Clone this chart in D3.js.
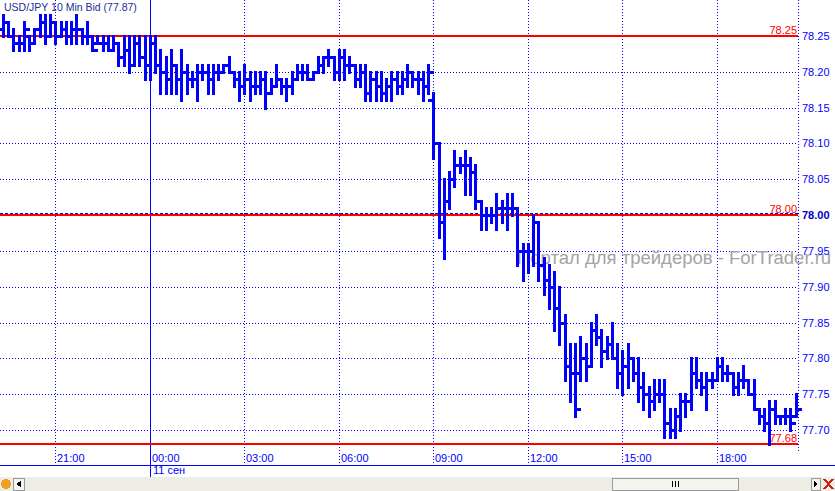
<!DOCTYPE html>
<html>
<head>
<meta charset="utf-8">
<script src="https://cdn.jsdelivr.net/npm/d3@7"></script>
<style>
html, body { margin: 0; padding: 0; background: #fff; overflow: hidden; }
svg { display: block; font-family: "Liberation Sans", Arial, sans-serif; }
</style>
</head>
<body>
<div id="chart"></div>
<script>
// USD/JPY 10 min bars, 10 Sep 19:20 .. 11 Sep 20:30
var barOpen = [78.26,78.27,78.25,78.24,78.24,78.25,78.24,78.26,78.27,78.25,78.27,78.25,78.26,78.25,78.26,78.26,78.25,78.25,78.24,78.24,
	78.24,78.23,78.24,78.22,78.23,78.21,78.24,78.22,78.21,78.24,78.21,78.20,78.19,78.21,78.19,78.20,78.19,78.19,78.20,78.20,
	78.19,78.20,78.20,78.21,78.20,78.19,78.18,78.19,78.18,78.18,78.19,78.17,78.18,78.19,78.18,78.18,78.19,78.20,78.20,78.19,
	78.20,78.21,78.22,78.22,78.20,78.22,78.21,78.21,78.19,78.20,78.17,78.19,78.18,78.17,78.18,78.19,78.18,78.19,78.20,78.19,
	78.19,78.18,78.16,78.10,77.99,78.02,78.05,78.07,78.07,78.07,78.06,78.02,78.00,78.00,78.00,78.01,78.01,78.01,78.01,77.95,
	77.95,77.95,77.99,77.93,77.91,77.90,77.87,77.85,77.79,77.78,77.78,77.80,77.79,77.84,77.83,77.81,77.82,77.80,77.78,77.79,
	77.80,77.78,77.76,77.75,77.74,77.75,77.75,77.71,77.70,77.72,77.74,77.74,77.78,77.77,77.76,77.77,77.77,77.79,77.78,77.78,
	77.76,77.77,77.77,77.75,77.73,77.72,77.71,77.73,77.72,77.72,77.72,77.72];
var barHigh = [78.28,78.27,78.26,78.25,78.27,78.25,78.26,78.28,78.28,78.28,78.27,78.27,78.27,78.27,78.28,78.26,78.27,78.25,78.25,78.25,
	78.25,78.25,78.24,78.25,78.25,78.25,78.25,78.25,78.25,78.25,78.23,78.22,78.23,78.21,78.23,78.21,78.20,78.21,78.21,78.21,
	78.21,78.21,78.21,78.22,78.20,78.20,78.21,78.20,78.20,78.20,78.20,78.19,78.21,78.19,78.19,78.20,78.21,78.21,78.21,78.20,
	78.22,78.22,78.23,78.22,78.23,78.23,78.22,78.21,78.21,78.21,78.20,78.20,78.20,78.19,78.20,78.20,78.20,78.21,78.20,78.20,
	78.20,78.21,78.17,78.10,78.05,78.06,78.09,78.08,78.09,78.08,78.07,78.02,78.01,78.01,78.03,78.02,78.03,78.03,78.01,77.96,
	77.96,78.00,77.99,77.94,77.93,77.92,77.90,77.86,77.82,77.82,77.83,77.82,77.85,77.86,77.84,77.83,77.85,77.82,77.81,77.82,
	77.80,77.80,77.78,77.76,77.77,77.77,77.77,77.73,77.73,77.75,77.75,77.80,77.80,77.78,77.78,77.78,77.80,77.80,77.79,77.78,
	77.78,77.79,77.77,77.77,77.73,77.73,77.74,77.74,77.72,77.73,77.73,77.75];
var barLow = [78.25,78.25,78.23,78.23,78.23,78.23,78.24,78.25,78.24,78.25,78.24,78.25,78.24,78.24,78.24,78.24,78.24,78.23,78.24,78.23,
	78.23,78.23,78.21,78.21,78.20,78.21,78.21,78.19,78.19,78.20,78.17,78.17,78.17,78.17,78.16,78.17,78.18,78.16,78.19,78.17,
	78.17,78.19,78.20,78.20,78.18,78.16,78.17,78.16,78.17,78.17,78.15,78.17,78.18,78.17,78.16,78.17,78.19,78.19,78.19,78.19,
	78.20,78.20,78.21,78.19,78.19,78.19,78.20,78.18,78.18,78.16,78.16,78.16,78.16,78.16,78.16,78.17,78.17,78.18,78.18,78.17,
	78.16,78.17,78.08,77.97,77.94,78.01,78.04,78.06,78.03,78.03,78.01,77.98,77.98,77.99,77.98,77.99,77.98,78.00,77.93,77.91,
	77.92,77.93,77.91,77.89,77.87,77.84,77.82,77.77,77.74,77.72,77.77,77.77,77.79,77.82,77.79,77.80,77.80,77.76,77.75,77.76,
	77.77,77.74,77.73,77.72,77.73,77.74,77.69,77.69,77.69,77.70,77.72,77.73,77.76,77.75,77.73,77.76,77.77,77.77,77.77,77.75,
	77.75,77.76,77.75,77.73,77.71,77.70,77.68,77.71,77.71,77.71,77.70,77.72];
var barClose = [78.27,78.25,78.24,78.24,78.26,78.24,78.26,78.27,78.25,78.27,78.25,78.26,78.25,78.26,78.26,78.25,78.25,78.23,78.24,78.24,
	78.23,78.24,78.22,78.23,78.21,78.24,78.22,78.21,78.24,78.21,78.20,78.19,78.21,78.19,78.20,78.19,78.19,78.20,78.20,78.19,
	78.20,78.20,78.21,78.20,78.19,78.18,78.19,78.18,78.18,78.19,78.17,78.18,78.19,78.18,78.18,78.19,78.20,78.20,78.19,78.20,
	78.21,78.22,78.22,78.20,78.22,78.21,78.21,78.19,78.20,78.17,78.19,78.18,78.17,78.18,78.19,78.18,78.19,78.20,78.19,78.19,
	78.18,78.20,78.10,77.99,78.02,78.05,78.07,78.07,78.07,78.06,78.02,78.00,78.00,78.00,78.01,78.01,78.01,78.01,77.95,77.95,
	77.95,77.99,77.93,77.91,77.90,77.87,77.85,77.79,77.78,77.73,77.80,77.79,77.84,77.83,77.81,77.82,77.80,77.78,77.79,77.80,
	77.78,77.76,77.75,77.74,77.75,77.75,77.71,77.70,77.72,77.74,77.74,77.78,77.77,77.76,77.77,77.77,77.79,77.78,77.78,77.76,
	77.77,77.77,77.75,77.73,77.72,77.71,77.73,77.72,77.72,77.72,77.71,77.73];

var priceTicks  = ["78.25","78.20","78.15","78.10","78.05","78.00","77.95","77.90","77.85","77.80","77.75","77.70"];
var timeLabels  = ["21:00","00:00","03:00","06:00","09:00","12:00","15:00","18:00"];
var timeBars    = [10, 28, 46, 64, 82, 100, 118, 136];
var dayLabel    = "11 сен";
var dayBar      = 28;
var levelLines  = [78.25, 78.00, 77.68];
var bidPrice    = 78.00;
var titleText   = "USD/JPY 10 Min Bid (77.87)";
var watermark   = "Портал для трейдеров - ForTrader.ru";

var BarChart = function(options){
	this.opt = {
		'target': 'chart',
		'width': 835,
		'height': 491
	};
	for (var k in options) this.opt[k] = options[k];
	this.setupSVG();
	this.renderGrid();
	this.renderLevels();
	this.renderBars();
	this.renderAxes();
	this.renderScrollbar();
};

BarChart.prototype.setupSVG = function(){
	this.plotRight = 798;
	this.plotBottom = 452;
	this.x = d3.scaleLinear()
		.domain([0, barOpen.length - 1])
		.range([2.9, 2.9 + (barOpen.length - 1) * 5.25]);
	this.y = d3.scaleLinear()
		.domain([77.70, 78.25])
		.range([430, 36]);
	this.svg = d3.select("#" + this.opt.target).append("svg")
		.attr("width", this.opt.width)
		.attr("height", this.opt.height);
	this.svg.append("rect")
		.attr("width", this.opt.width)
		.attr("height", this.opt.height)
		.attr("fill", "#fff");
};

BarChart.prototype.renderGrid = function(){
	var self = this;
	// horizontal dotted grid
	this.svg.append("g").selectAll("line")
		.data(priceTicks)
		.enter().append("line")
		.attr("x1", 0)
		.attr("x2", self.plotRight)
		.attr("y1", function(d){ return Math.round(self.y(+d)) + 0.5; })
		.attr("y2", function(d){ return Math.round(self.y(+d)) + 0.5; })
		.attr("stroke", "#0000ff")
		.attr("stroke-dasharray", "1,2");
	// vertical dotted grid
	this.svg.append("g").selectAll("line")
		.data(timeBars.filter(function(b){ return b != dayBar; }))
		.enter().append("line")
		.attr("x1", function(d){ return Math.round(self.x(d)) + 0.5; })
		.attr("x2", function(d){ return Math.round(self.x(d)) + 0.5; })
		.attr("y1", 0)
		.attr("y2", 463)
		.attr("stroke", "#0000ff")
		.attr("stroke-dasharray", "1,2");
	// day separator
	var dx = Math.round(this.x(dayBar)) + 0.5;
	this.svg.append("line")
		.attr("x1", dx).attr("x2", dx)
		.attr("y1", 0).attr("y2", 477)
		.attr("stroke", "#0000ff");
	// price axis line
	this.svg.append("line")
		.attr("x1", this.plotRight + 0.5).attr("x2", this.plotRight + 0.5)
		.attr("y1", 0).attr("y2", this.plotBottom)
		.attr("stroke", "#0000ff")
		.attr("stroke-dasharray", "1,2");
	// watermark
	this.svg.append("text")
		.attr("x", 517)
		.attr("y", 264)
		.attr("font-size", 18.5)
		.attr("fill", "#a4a4a4")
		.text(watermark);
};

BarChart.prototype.renderLevels = function(){
	var self = this;
	var by = Math.round(this.y(bidPrice)) - 1.5;
	this.svg.append("line")
		.attr("x1", 0).attr("x2", this.plotRight)
		.attr("y1", by).attr("y2", by)
		.attr("stroke", "#0000ff")
		.attr("stroke-dasharray", "3,2");
	var lv = this.svg.append("g").selectAll("g")
		.data(levelLines)
		.enter().append("g");
	lv.append("rect")
		.attr("x", 0)
		.attr("width", self.plotRight)
		.attr("y", function(d){ return Math.round(self.y(d)) - 1; })
		.attr("height", 2)
		.attr("fill", "#ff0000");
	lv.append("text")
		.attr("x", self.plotRight - 1)
		.attr("y", function(d){ return Math.round(self.y(d)) - 2; })
		.attr("text-anchor", "end")
		.attr("font-size", 11)
		.attr("fill", "#ff0000")
		.text(function(d){ return d.toFixed(2); });
};

BarChart.prototype.renderBars = function(){
	var self = this;
	var data = barOpen.map(function(o, i){
		return {i: i, o: o, h: barHigh[i], l: barLow[i], c: barClose[i]};
	});
	var g = this.svg.append("g")
		.attr("fill", "#0000ff")
		.attr("shape-rendering", "crispEdges");
	var bars = g.selectAll("g").data(data).enter().append("g");
	bars.append("rect")
		.attr("x", function(d){ return Math.round(self.x(d.i)) - 1; })
		.attr("width", 3)
		.attr("y", function(d){ return Math.round(self.y(d.h)) - 1; })
		.attr("height", function(d){ return Math.round(self.y(d.l)) - Math.round(self.y(d.h)) + 3; });
	bars.append("rect")
		.attr("x", function(d){ return Math.round(self.x(d.i)) - 5; })
		.attr("width", 4)
		.attr("y", function(d){ return Math.round(self.y(d.o)) - 1; })
		.attr("height", 3);
	bars.append("rect")
		.attr("x", function(d){ return Math.round(self.x(d.i)) + 2; })
		.attr("width", 4)
		.attr("y", function(d){ return Math.round(self.y(d.c)) - 1; })
		.attr("height", 3);
};

BarChart.prototype.renderAxes = function(){
	var self = this;
	this.svg.append("text")
		.attr("x", 4)
		.attr("y", 11)
		.attr("font-size", 10.5)
		.attr("fill", "#1c2c9c")
		.text(titleText);
	this.svg.append("g").selectAll("text")
		.data(priceTicks)
		.enter().append("text")
		.attr("x", self.plotRight + 4)
		.attr("y", function(d){ return self.y(+d) + 4; })
		.attr("font-size", 11)
		.attr("font-weight", function(d){ return +d == bidPrice ? "bold" : "normal"; })
		.attr("fill", function(d){ return +d == bidPrice ? "#0000c0" : "#0000ff"; })
		.text(function(d){ return d; });
	this.svg.append("g").selectAll("text")
		.data(timeLabels)
		.enter().append("text")
		.attr("x", function(d, i){ return Math.round(self.x(timeBars[i])) + 2; })
		.attr("y", 462)
		.attr("font-size", 11)
		.attr("fill", "#0000ff")
		.text(function(d){ return d; });
	this.svg.append("line")
		.attr("x1", 0).attr("x2", this.opt.width)
		.attr("y1", 465.5).attr("y2", 465.5)
		.attr("stroke", "#0000ff");
	this.svg.append("text")
		.attr("x", Math.round(this.x(dayBar)) + 3)
		.attr("y", 474)
		.attr("font-size", 11)
		.attr("fill", "#0000ff")
		.text(dayLabel);
};

BarChart.prototype.renderScrollbar = function(){
	var sb = this.svg.append("g").attr("shape-rendering", "crispEdges");
	sb.append("rect").attr("x", 0).attr("y", 477).attr("width", 835).attr("height", 14).attr("fill", "#eeede5");
	sb.append("circle").attr("cx", 6).attr("cy", 484).attr("r", 5).attr("fill", "#f0a020");
	sb.append("rect").attr("x", 13).attr("y", 478).attr("width", 11).attr("height", 12).attr("fill", "#f4f3ee").attr("stroke", "#999");
	sb.append("path").attr("d", "M21,481 L16,484 L21,487 Z").attr("fill", "#000");
	sb.append("rect").attr("x", 612).attr("y", 478).attr("width", 126).attr("height", 12).attr("fill", "#f4f3ee").attr("stroke", "#999");
	sb.append("path").attr("d", "M672,481 V487 M675,481 V487 M678,481 V487").attr("stroke", "#000");
	sb.append("rect").attr("x", 811).attr("y", 478).attr("width", 9).attr("height", 12).attr("fill", "#f4f3ee").attr("stroke", "#999");
	sb.append("path").attr("d", "M814,481 L818,484 L814,487 Z").attr("fill", "#000");
	sb.append("path").attr("d", "M824,479 L833,489 M833,479 L824,489").attr("stroke", "#d02010").attr("stroke-width", 2);
};

new BarChart({'target': 'chart'});
</script>
</body>
</html>
